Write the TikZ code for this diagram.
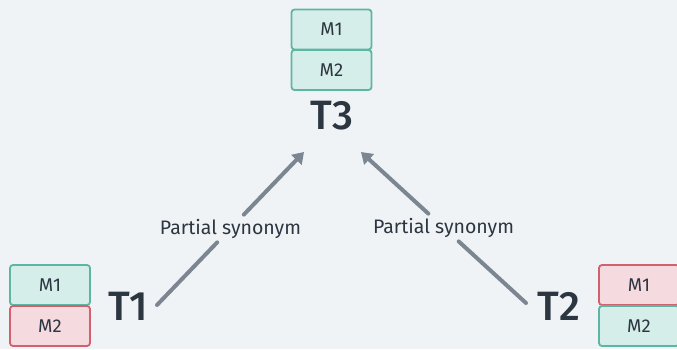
\documentclass[tikz,border=0pt]{standalone}
\usepackage{fontspec}
\setmainfont{Fira Sans}
\newfontfamily\medfont{Fira Sans Medium}
\usetikzlibrary{arrows.meta,calc}
\definecolor{bgc}{HTML}{F0F3F6}
\definecolor{tealfill}{HTML}{D6EEE9}
\definecolor{tealline}{HTML}{5DB6A3}
\definecolor{redfill}{HTML}{F5DBDF}
\definecolor{redline}{HTML}{D2616F}
\definecolor{arrowc}{HTML}{7B8692}
\definecolor{inkc}{HTML}{2C3641}
\tikzset{
  mbox/.style={draw, line width=1.8pt, rounded corners=3pt, minimum width=80pt,
    minimum height=40pt, inner sep=0pt, text=inkc, font=\fontsize{18.5}{18.5}\selectfont},
  okbox/.style={mbox, fill=tealfill, draw=tealline},
  badbox/.style={mbox, fill=redfill, draw=redline},
  term/.style={text=inkc, inner sep=0pt, font=\medfont\fontsize{41}{41}\selectfont},
  lbl/.style={text=inkc, inner xsep=2pt, inner ysep=4pt, font=\fontsize{19.5}{19.5}\selectfont},
  link/.style={draw=arrowc, line width=4pt, line cap=round},
  linkarrow/.style={link, -{Triangle[length=11pt,width=14pt]}}
}
\begin{document}
\begin{tikzpicture}[x=1pt,y=-1pt]
  \fill[bgc] (0,0) rectangle (677,349);
  \useasboundingbox (0,0) rectangle (677,349);
  \clip (0,0) rectangle (677,349);

  % top term with its two meanings
  \node[okbox] (t3m1) at (331.5,29.5) {M1};
  \node[okbox] (t3m2) at (331.5,70) {M2};
  \node[term] (t3) at (332,116) {T3};

  % left term
  \node[okbox] (t1m1) at (50,285) {M1};
  \node[badbox] (t1m2) at (50,326) {M2};
  \node[term] (t1) at (128,306) {T1};

  % right term
  \node[badbox] (t2m1) at (639,285) {M1};
  \node[okbox] (t2m2) at (639,326) {M2};
  \node[term] (t2) at (559,306) {T2};

  % relation arrows, split around their labels
  \coordinate (s1) at (157,305);
  \coordinate (e1) at (304,152);
  \node[lbl] (lab1) at ($(s1)!0.5!(e1)$) {Partial synonym};
  \draw[link] (s1) -- (lab1);
  \draw[linkarrow] (lab1) -- (e1);

  \coordinate (s2) at (526,303);
  \coordinate (e2) at (361,152);
  \node[lbl] (lab2) at ($(s2)!0.5!(e2)$) {Partial synonym};
  \draw[link] (s2) -- (lab2);
  \draw[linkarrow] (lab2) -- (e2);
\end{tikzpicture}
\end{document}
